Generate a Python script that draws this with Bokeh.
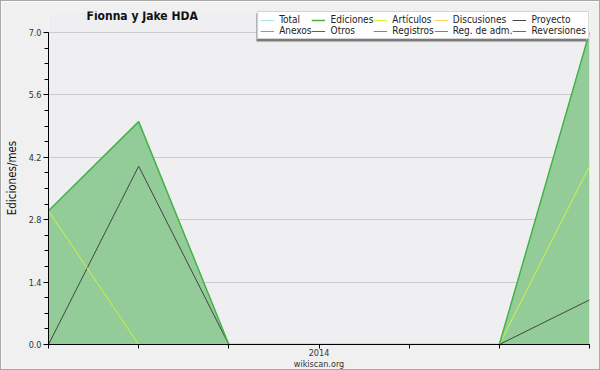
from bokeh.plotting import figure
from bokeh.models import (Range1d, FixedTicker, Legend, LegendItem, Label,
                          NumeralTickFormatter, BoxAnnotation)
from bokeh.embed import file_html
from bokeh.resources import INLINE

months = ["2013-10", "2013-11", "2013-12", "2014-01", "2014-02", "2014-03", "2014-04"]
tick_labels = ["", "", "", "2014", "", "", ""]
total = [3, 5, 0, 0, 0, 0, 7]
ediciones = [3, 5, 0, 0, 0, 0, 7]
articulos = [3, 0, 0, 0, 0, 0, 4]
discusiones = [0, 0, 0, 0, 0, 0, 0]
proyecto = [0, 4, 0, 0, 0, 0, 1]
anexos = [0, 0, 0, 0, 0, 0, 0]
otros = [0, 0, 0, 0, 0, 0, 0]
registros = [0, 0, 0, 0, 0, 0, 0]
reg_adm = [0, 0, 0, 0, 0, 0, 0]
reversiones = [0, 0, 0, 0, 0, 0, 0]
y_ticks = [0.0, 1.4, 2.8, 4.2, 5.6, 7.0]
y_minor = [0.35 * i for i in range(21)]
y_max = 7.0

x = list(range(len(months)))
FONT = "DejaVu Sans Condensed"

# frame: left 47, right 588, bottom 344; value 7.0 at y=31, frame top at y=10
FRAME_TOP, FRAME_BOTTOM, TOP_VALUE_PX = 10, 344, 31
y_end = y_max * (FRAME_BOTTOM - FRAME_TOP) / (FRAME_BOTTOM - TOP_VALUE_PX)

p = figure(width=600, height=370, output_backend="svg", toolbar_location=None,
           title=None,
           x_range=Range1d(0, len(months) - 1), y_range=Range1d(0, y_end),
           min_border_left=47, min_border_right=12, min_border_top=FRAME_TOP,
           min_border_bottom=26)
p.background_fill_color = "#EFEFF1"
p.border_fill_color = "#F0F0F0"
p.outline_line_color = None
p.styles = {"border": "1px solid #A8A8A8", "box-sizing": "border-box"}

p.xgrid.visible = False
p.ygrid.grid_line_color = "#CCCCCC"
p.ygrid.ticker = FixedTicker(ticks=y_ticks)

p.xaxis.ticker = FixedTicker(ticks=x)
p.xaxis.major_label_overrides = {i: t for i, t in zip(x, tick_labels)}
p.yaxis.ticker = FixedTicker(ticks=y_ticks, minor_ticks=y_minor)
p.yaxis.formatter = NumeralTickFormatter(format="0.0")
p.yaxis.bounds = (0, y_max)
for ax in (p.xaxis[0], p.yaxis[0]):
    ax.axis_line_color = "black"
    ax.major_tick_line_color = "black"
    ax.minor_tick_line_color = "black"
    ax.major_tick_in = 0
    ax.minor_tick_in = 0
    ax.major_label_text_font = FONT
    ax.major_label_text_color = "#333333"
p.xaxis.major_tick_out = 4
p.xaxis.minor_tick_line_color = None
p.xaxis.major_label_text_font_size = "9px"
p.xaxis.major_label_standoff = 0
p.xaxis.axis_label = "wikiscan.org"
p.xaxis.axis_label_text_font = FONT
p.xaxis.axis_label_text_font_size = "9px"
p.xaxis.axis_label_text_font_style = "normal"
p.xaxis.axis_label_text_color = "#333333"
p.xaxis.axis_label_standoff = 0
p.yaxis.major_tick_out = 5
p.yaxis.minor_tick_out = 4
p.yaxis.major_label_text_font_size = "9px"
p.yaxis.major_label_standoff = 2
p.yaxis.axis_label = "Ediciones/mes"
p.yaxis.axis_label_text_font = FONT
p.yaxis.axis_label_text_font_size = "11.5px"
p.yaxis.axis_label_text_font_style = "normal"
p.yaxis.axis_label_text_color = "#111111"
p.yaxis.axis_label_standoff = 7

p.varea(x=x, y1=0, y2=ediciones, fill_color="#8DC993", fill_alpha=0.95)

colors = {
    "Total": "#A8E2E2", "Ediciones": "#44B244", "Artículos": "#CCF53C",
    "Discusiones": "#FFCC55", "Proyecto": "#444444", "Anexos": "#F47B45",
    "Otros": "#8833CC", "Registros": "#7777EE", "Reg. de adm.": "#DD44DD",
    "Reversiones": "#EE3333",
}
series = [("Total", total), ("Ediciones", ediciones), ("Artículos", articulos),
          ("Discusiones", discusiones), ("Proyecto", proyecto), ("Anexos", anexos),
          ("Otros", otros), ("Registros", registros), ("Reg. de adm.", reg_adm),
          ("Reversiones", reversiones)]
draw_order = ["Anexos", "Otros", "Registros", "Reg. de adm.", "Reversiones",
              "Discusiones", "Total", "Proyecto", "Artículos", "Ediciones"]
rend = {}
data = dict(series)
for name in draw_order:
    lw = 1.5 if name == "Ediciones" else 1
    rend[name] = p.line(x, data[name], line_color=colors[name], line_width=lw)

# legend shadow (screen units, frame-relative)
shadow = BoxAnnotation(left=208, right=538, bottom=303, top=331,
                       left_units="screen", right_units="screen",
                       bottom_units="screen", top_units="screen",
                       fill_color="#7A7A7A", fill_alpha=1, line_color=None,
                       level="annotation")
p.add_layout(shadow)

items = [LegendItem(label=n, renderers=[rend[n]]) for n, _ in series]
legend = Legend(items=items, orientation="horizontal", ncols=5,
                location="top_right", glyph_width=14, glyph_height=10,
                label_height=10, label_standoff=5, spacing=0, padding=2,
                margin=0, label_text_font=FONT, label_text_font_size="10px",
                label_text_color="#222222", border_line_color="#AAAAAA",
                background_fill_color="white", background_fill_alpha=1)
p.add_layout(legend, "center")

title = Label(x=38, y=FRAME_BOTTOM - 15, x_units="screen", y_units="screen",
              text="Fionna y Jake HDA", text_baseline="middle", text_font=FONT,
              text_font_size="12px", text_font_style="bold", text_color="#111111")
p.add_layout(title)

cc = Label(x=541, y=-22, x_units="screen", y_units="screen", text="CC BY-SA 3.0",
           text_align="right", text_baseline="bottom", text_font=FONT,
           text_font_size="6.5px", text_color="#333333")
p.add_layout(cc)

open("out.html", "w").write(file_html(p, INLINE))
